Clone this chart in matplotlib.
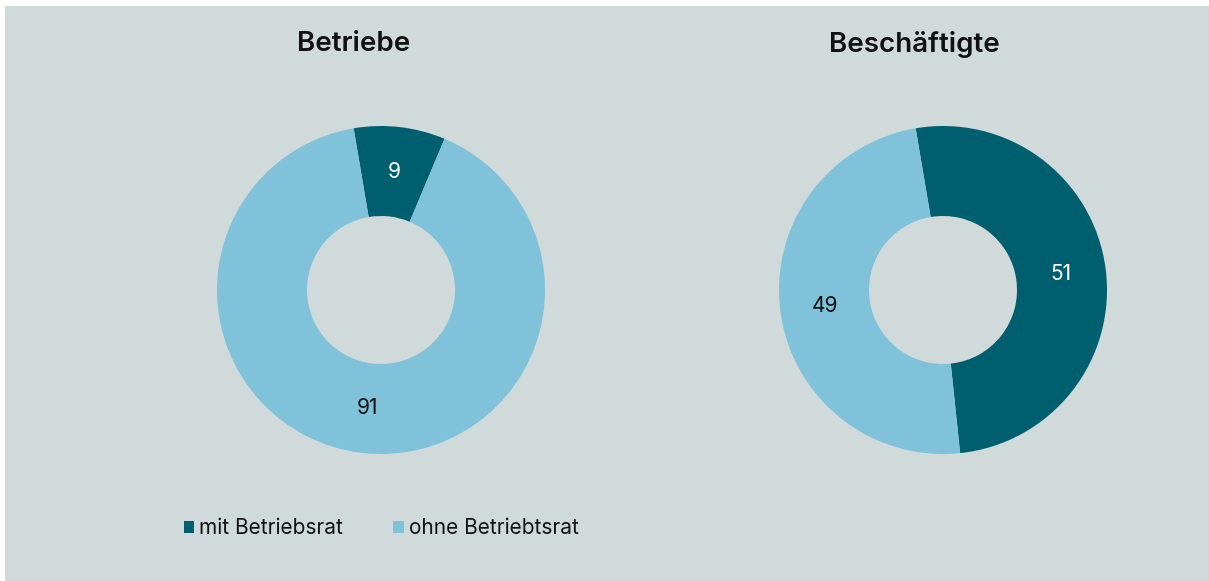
import matplotlib.pyplot as plt
from matplotlib.patches import Rectangle, Patch

plt.rcParams['font.family'] = ['Inter', 'DejaVu Sans']

# data
titles = ['Betriebe', 'Beschäftigte']
categories = ['mit Betriebsrat', 'ohne Betriebtsrat']
betriebe = [9, 91]
beschaeftigte = [51, 49]

colors = ['#005f6e', '#80c2d9']
label_colors = ['white', '#111111']
bg = '#d0dadb'

W, H = 1209, 581
fig = plt.figure(figsize=(W / 100, H / 100), dpi=100)
fig.patch.set_facecolor('white')

# one axes in pixel units (y up)
ax = fig.add_axes([0, 0, 1, 1])
ax.add_patch(Rectangle((5, 0), W - 5, H - 6, facecolor=bg, edgecolor='none', zorder=0))

R = 164
hole = 74
centers = [(381, H - 290), (943, H - 290)]
title_x = [354, 914]

for values, c, tx, title in zip([betriebe, beschaeftigte], centers, title_x, titles):
    wedges, texts, autotexts = ax.pie(
        values, colors=colors, center=c, radius=R, startangle=99.6,
        counterclock=False, autopct=lambda p: f'{p:.0f}',
        pctdistance=(R + hole) / 2 / R,
        wedgeprops=dict(width=R - hole, edgecolor='none'),
        textprops=dict(fontsize=15), frame=True)
    for t, col in zip(autotexts, label_colors):
        t.set_color(col)
    ax.text(tx, H - 44, title, ha='center', va='center', fontsize=20,
            fontweight='semibold', color='#111111')

ax.set_xlim(0, W)
ax.set_ylim(0, H)
ax.set_aspect('equal')
ax.axis('off')

handles = [Patch(facecolor=col, edgecolor='none', label=lab) for col, lab in zip(colors, categories)]
fig.legend(handles=handles, loc='center left', bbox_to_anchor=(165 / W, 1 - 528 / H),
           ncol=2, frameon=False, fontsize=15, handlelength=0.5, handleheight=0.5,
           handletextpad=0.25, columnspacing=2.4, labelcolor='#111111')

fig.savefig('out.png', dpi=100, facecolor=fig.get_facecolor())
